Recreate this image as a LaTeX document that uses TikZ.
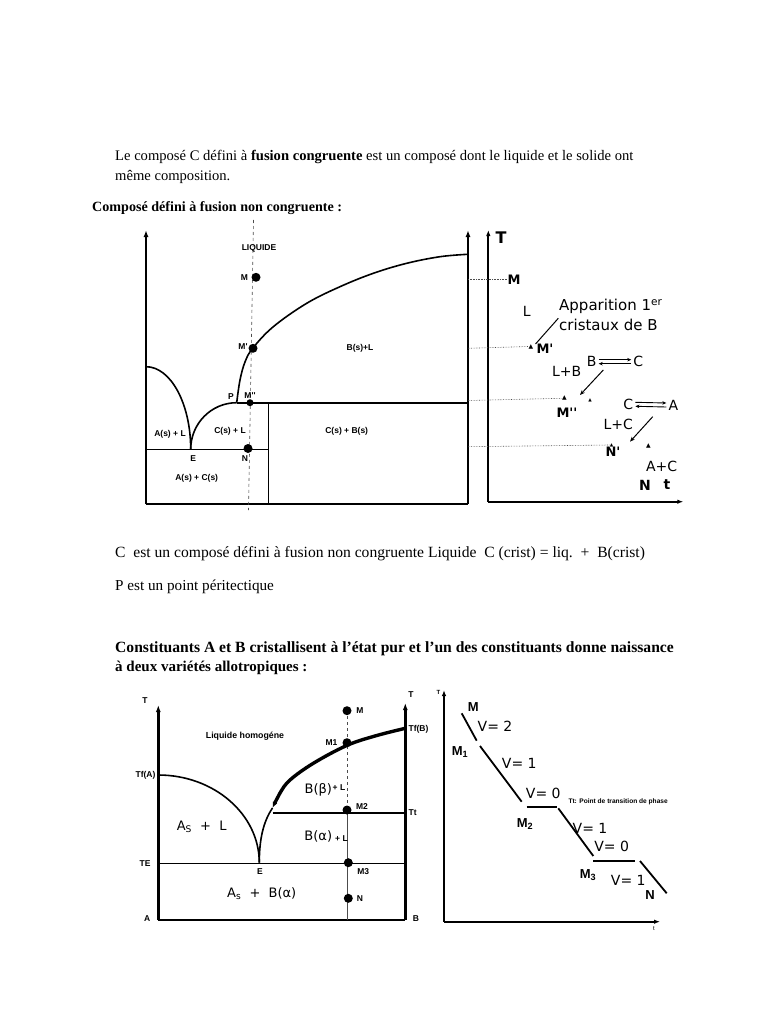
\documentclass[tikz,border=0pt]{standalone}
\usepackage{fontspec}
\setmainfont{Liberation Serif}
\newfontfamily\arialf{Liberation Sans}
\newfontfamily\comicf{DejaVu Sans}
\usetikzlibrary{arrows.meta}
\begin{document}
\begin{tikzpicture}[x=1pt,y=-1pt,
  axis/.style={line width=2.4pt,-{Latex[length=7pt,width=5pt]}},
  thinaxis/.style={line width=2pt,-{Latex[length=6pt,width=4.5pt]}},
  ph/.style={line width=1.6pt},
  body/.style={anchor=base west,inner sep=0},
  lab/.style={inner sep=0,font=\arialf\bfseries\fontsize{8.5}{9}\selectfont},
  dot/.style={circle,fill=black,inner sep=0,minimum size=9pt},
  cl/.style={inner sep=0,font=\comicf\fontsize{14}{15}\selectfont},
  clb/.style={inner sep=0,font=\comicf\bfseries\fontsize{13}{14}\selectfont},
  mb/.style={inner sep=0,font=\arialf\bfseries\fontsize{13}{14}\selectfont},
  guide/.style={densely dotted,line width=0.6pt,black!70},
  tri/.style={inner sep=0,font=\comicf\fontsize{6}{6}\selectfont},
  cur/.style={line width=1.8pt},
  arr/.style={line width=1pt,-{Stealth[length=5pt,width=4pt]}},
  harp/.style={line width=0.9pt,-{Stealth[length=4pt,width=3.5pt]}},
]
\useasboundingbox[fill=white] (0,0) rectangle (768,1024);

% ---------- texts ----------
\node[body,font=\fontsize{14.6}{17}\selectfont] (t1) at (115,161) {Le composé C défini à \textbf{fusion congruente} est un composé dont le liquide et le solide ont};
\node[body,font=\fontsize{14.6}{17}\selectfont] (t2) at (115,181) {même composition.};
\node[body,font=\bfseries\fontsize{14.1}{17}\selectfont] (t3) at (92,212) {Composé défini à fusion non congruente :};
\node[body,font=\fontsize{15.6}{17}\selectfont] (t4) at (115,557) {C\ \ est un composé défini à fusion non congruente Liquide\ \ C (crist) = liq.\ \ +\ \ B(crist)};
\node[body,font=\fontsize{15.2}{17}\selectfont] (t5) at (115,590) {P est un point péritectique};
\node[body,font=\bfseries\fontsize{15.6}{17}\selectfont] (t6) at (115,652) {Constituants A et B cristallisent à l'état pur et l'un des constituants donne naissance};
\node[body,font=\bfseries\fontsize{15}{17}\selectfont] (t7) at (115,671) {à deux variétés allotropiques :};

% ---------- top phase diagram ----------
\draw[axis] (146,504) -- (146,230);
\draw[axis] (468,504) -- (468,230);
\draw[ph,line width=2.2pt] (146,504) -- (468,504);
\draw[ph] (146,366.7) .. controls (170.7,366.7) and (190.7,403.7) .. (190.7,449.3);
\draw[ph] (190.7,449.3) .. controls (190.7,423.6) and (211.3,402.7) .. (236.7,402.7);
\draw[ph] plot[smooth,tension=0.6] coordinates {(236.7,402.7) (240,380) (245,362) (252.7,348.3) (273.3,326.7) (306.7,303.3) (340,286.7) (373.3,273.3) (406.7,263.3) (440,256.7) (467.7,254.3)};
\draw[ph] (236.7,402.7) -- (468,402.7);
\draw[ph] (146,449.3) -- (268.3,449.3);
\draw[ph] (268.3,402.7) -- (268.3,504);
\draw[dashed,line width=0.6pt,black!70] (253.5,220) -- (248.5,510);

\node[dot] (M) at (256,277.3) {};
\node[dot] (Mp) at (253,348.3) {};
\node[dot,minimum size=7pt] (Mpp) at (250,402.7) {};
\node[dot] (N) at (248,448.5) {};

\node[lab] (lLiq) at (259,248.3) {LIQUIDE};
\node[lab] (lM) at (244.5,277.3) {M};
\node[lab] (lMp) at (243,346.7) {M'};
\node[lab] (lP) at (231,396.7) {P};
\node[lab] (lMpp) at (250,396) {M''};
\node[lab] (lE) at (193.3,458.3) {E};
\node[lab] (lN) at (245,458.3) {N};
\node[lab] (lBL) at (360,348.3) {B(s)+L};
\node[lab] (lAL) at (170,434.3) {A(s) + L};
\node[lab] (lCL) at (230,431.7) {C(s) + L};
\node[lab] (lCB) at (346.7,431) {C(s) + B(s)};
\node[lab] (lAC) at (196.7,478.3) {A(s) + C(s)};

% ---------- top cooling curve ----------
\draw[thinaxis] (488.3,501.7) -- (488.3,230);
\draw[thinaxis] (488.3,501.7) -- (683.3,501.7);
\node[inner sep=0,font=\comicf\bfseries\fontsize{16}{16}\selectfont] (cT) at (501,238) {T};
\node[clb] (cM) at (514,279.3) {M};
\node[cl] (cL) at (526.7,311.7) {L};
\node[cl,anchor=west,font=\comicf\fontsize{15}{16}\selectfont] (app) at (559,306.7) {Apparition 1\textsuperscript{er}};
\node[cl,anchor=west,font=\comicf\fontsize{15}{16}\selectfont] (cri) at (559,324.5) {cristaux de B};
\node[tri] (tr1) at (531,346.5) {▲};
\node[clb] (cMp) at (545,348.3) {M'};
\coordinate (a1s) at (558.3,318.3);
\coordinate (a1e) at (535.5,344);
\draw[line width=1pt] (a1s) -- (a1e);

\node[cl] (B1) at (591.7,361.7) {B};
\node[cl] (C1) at (638.3,361.7) {C};
\draw[harp] ([shift={(2,-2)}]B1.east) -- ([shift={(-2,-2)}]C1.west);
\draw[harp] ([shift={(-2,2)}]C1.west) -- ([shift={(2,2)}]B1.east);
\node[cl] (LB) at (566.7,371) {L+B};
\coordinate (a2s) at (603.3,370);
\coordinate (a2e) at (580,395);
\draw[arr] (a2s) -- (a2e);
\node[tri] (tr2) at (564.3,398.3) {▲};
\node[tri,font=\comicf\fontsize{4.5}{5}\selectfont] (tr3) at (590,400) {▲};
\node[clb] (cMpp) at (567,413) {M''};

\node[cl] (C2) at (628.3,404.3) {C};
\node[cl] (A2) at (673.3,405) {A};
\draw[harp] ([shift={(2,-2)}]C2.east) -- ([shift={(-2,-2)}]A2.west);
\draw[harp] ([shift={(-2,2)}]A2.west) -- ([shift={(2,2)}]C2.east);
\node[cl] (LC) at (618.3,424) {L+C};
\coordinate (a3s) at (652.7,416.7);
\coordinate (a3e) at (630,441.7);
\draw[arr] (a3s) -- (a3e);
\node[tri,font=\comicf\fontsize{4.5}{5}\selectfont] (tr4) at (611.5,445) {▲};
\node[clb] (cNp) at (613,452) {N'};
\node[tri] (tr5) at (648.3,446) {▲};
\node[cl] (AC) at (661.7,466) {A+C};
\node[clb,font=\comicf\bfseries\fontsize{14}{15}\selectfont] (cN) at (645,485) {N};
\node[clb,font=\comicf\bfseries\fontsize{14}{15}\selectfont] (ct) at (667,485) {t};

\coordinate (g1) at (468,279.3);
\coordinate (g2) at (468,348.3);
\coordinate (g3) at (468,400.5);
\coordinate (g4) at (468,446.7);
\draw[guide] (g1) -- (cM.west);
\draw[guide] (g2) -- (tr1.west);
\draw[guide] (g3) -- (tr2.west);
\draw[guide] (g4) -- (tr4.west);

% ---------- bottom phase diagram ----------
\draw[axis] (158.3,920) -- (158.3,705);
\draw[axis] (405.3,920) -- (405.3,703);
\draw[ph,line width=2.2pt] (158.3,920) -- (405.3,920);
\draw[ph] (158.3,775) .. controls (214,775) and (259.3,814.3) .. (259.3,862.7);
\draw[ph] (259.3,862.7) .. controls (259.3,840) and (263,822) .. (272.5,808);
\draw[line width=3.4pt,{Latex[length=6pt,width=5pt]}-] plot[smooth,tension=0.6] coordinates {(272.5,808) (280,793) (290,780) (313.3,763.3) (346.7,745.5) (375,736) (405.3,728.3)};
\draw[ph] (272.7,812.7) -- (405.3,812.7);
\draw[ph] (158.3,863.3) -- (405.3,863.3);
\draw[dashed,line width=0.6pt,black!70] (347,710) -- (347,810);
\draw[line width=0.6pt,black!70] (347,810) -- (347,920);

\node[dot] (bM) at (347,710.7) {};
\node[dot] (bM1) at (347,742.7) {};
\node[dot] (bM2) at (347,810) {};
\node[dot] (bM3) at (348.3,862.7) {};
\node[dot] (bN) at (348.3,898.3) {};

\node[lab] (bT1) at (145,700.7) {T};
\node[lab] (bT2) at (411,695) {T};
\node[lab] (bA) at (147.3,918.3) {A};
\node[lab] (bB) at (416,918.3) {B};
\node[lab] (bTfA) at (145.5,775) {Tf(A)};
\node[lab] (bTE) at (145,863.3) {TE};
\node[lab] (bE) at (260,871.7) {E};
\node[lab] (bTt) at (412.7,812.7) {Tt};
\node[lab] (bTfB) at (418.5,729.3) {Tf(B)};
\node[lab] (lbM) at (360,710.7) {M};
\node[lab] (lbM1) at (331.5,742.7) {M1};
\node[lab] (lbM2) at (362,806.7) {M2};
\node[lab] (lbM3) at (363.3,871.7) {M3};
\node[lab] (lbN) at (360,898.3) {N};
\node[lab,font=\arialf\bfseries\fontsize{8.8}{9}\selectfont] (liqh) at (245,736) {Liquide homogéne};
\node[cl,font=\comicf\fontsize{13}{14}\selectfont] (bBb) at (318.3,790) {B(β)};
\node[lab] (bBbL) at (339,787.5) {+ L};
\node[cl,font=\comicf\fontsize{13}{14}\selectfont] (bBa) at (318.3,836.7) {B(α)};
\node[lab] (bBaL) at (341.5,838.5) {+ L};
\node[cl,font=\comicf\fontsize{13}{14}\selectfont] (bAL) at (201.7,826.7) {A\textsubscript{S}\ \ + \ L};
\node[cl,font=\comicf\fontsize{13}{14}\selectfont] (bAB) at (261.7,893.3) {A\textsubscript{s}\ \ + \ B(α)};

% ---------- bottom cooling curve ----------
\draw[thinaxis] (444,921.7) -- (444,690);
\draw[thinaxis] (444,921.7) -- (660,921.7);
\node[inner sep=0,font=\arialf\bfseries\fontsize{6}{6}\selectfont] (c2T) at (438.5,692) {T};
\node[inner sep=0,font=\arialf\fontsize{6}{6}\selectfont] (c2t) at (654,929) {t};
\draw[cur] (461.7,713.3) -- (476.7,740.7);
\draw[cur] (480,746) -- (521.7,801.7);
\draw[cur] (526.7,806.7) -- (556.7,806.7);
\draw[cur] (558.3,808.3) -- (593.3,856);
\draw[cur] (593.3,861) -- (635,861);
\draw[cur] (640,861) -- (666.7,893.3);
\node[mb] (c2M) at (473.3,706.7) {M};
\node[mb] (c2M1) at (460,752) {M\textsubscript{1}};
\node[mb] (c2M2) at (525,824) {M\textsubscript{2}};
\node[mb] (c2M3) at (588,875) {M\textsubscript{3}};
\node[mb] (c2N) at (650,895) {N};
\node[cl] (v1) at (495,726.7) {V= 2};
\node[cl] (v2) at (519.3,763.3) {V= 1};
\node[cl] (v3) at (543.3,793.3) {V= 0};
\node[cl] (v4) at (590,828.3) {V= 1};
\node[cl] (v5) at (611.7,846) {V= 0};
\node[cl] (v6) at (628.3,880) {V= 1};
\node[inner sep=0,anchor=west,font=\arialf\bfseries\fontsize{6.6}{7}\selectfont] (tt) at (568.3,801.7) {Tt: Point de transition de phase};
\end{tikzpicture}
\end{document}
